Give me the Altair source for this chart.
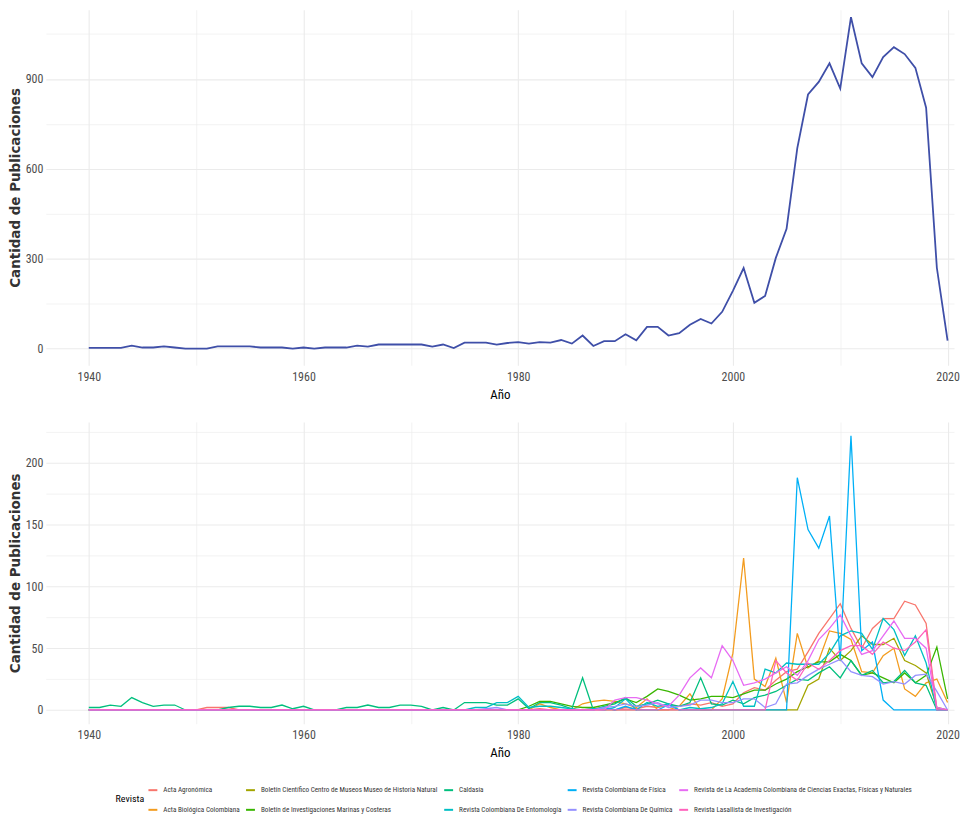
import altair as alt
import pandas as pd

years = list(range(1940, 2021))

# total publications per year (top panel)
total = [3, 3, 3, 3, 10, 4, 4, 8, 4, 0,
         0, 0, 8, 8, 8, 8, 4, 4, 4, 0,
         4, 0, 4, 4, 4, 10, 7, 14, 14, 14,
         14, 14, 7, 14, 2, 20, 20, 20, 14, 19,
         22, 17, 22, 20, 29, 17, 44, 9, 25, 25,
         48, 28, 73, 73, 44, 52, 80, 99, 84, 123,
         193, 269, 153, 176, 303, 400, 669, 848, 890, 952,
         868, 1106, 952, 906, 973, 1006, 983, 937, 804, 270,
         27]

acta_agronomica = [0, 0, 0, 0, 0, 0, 0, 0, 0, 0,
                   0, 2, 2, 2, 0, 0, 0, 0, 0, 0,
                   0, 0, 0, 0, 0, 0, 0, 0, 0, 0,
                   0, 0, 0, 0, 0, 0, 0, 0, 0, 0,
                   0, 0, 1, 0, 0, 0, 0, 1, 2, 0,
                   2, 1, 3, 2, 4, 3, 5, 4, 6, 3,
                   5, 14, 18, 16, 24, 31, 33, 47, 62, 74,
                   86, 66, 50, 66, 74, 74, 88, 85, 70, 1,
                   0]
acta_biologica = [0, 0, 0, 0, 0, 0, 0, 0, 0, 0,
                  0, 0, 0, 0, 0, 0, 0, 0, 0, 0,
                  0, 0, 0, 0, 0, 0, 0, 0, 0, 0,
                  0, 0, 0, 0, 0, 0, 0, 0, 0, 0,
                  0, 0, 5, 2, 0, 0, 5, 7, 8, 7,
                  5, 2, 9, 0, 0, 3, 13, 0, 0, 9,
                  46, 123, 25, 19, 42, 6, 62, 34, 40, 64,
                  62, 57, 31, 30, 44, 50, 17, 11, 22, 25,
                  6]
boletin_cientifico = [0, 0, 0, 0, 0, 0, 0, 0, 0, 0,
                      0, 0, 0, 0, 0, 0, 0, 0, 0, 0,
                      0, 0, 0, 0, 0, 0, 0, 0, 0, 0,
                      0, 0, 0, 0, 0, 0, 0, 0, 0, 0,
                      0, 0, 0, 0, 0, 0, 0, 0, 0, 0,
                      0, 0, 0, 0, 0, 0, 0, 0, 0, 0,
                      0, 0, 0, 0, 0, 0, 0, 20, 25, 50,
                      40, 48, 60, 53, 53, 58, 40, 36, 30, 2,
                      0]
boletin_marinas = [0, 0, 0, 0, 0, 0, 0, 0, 0, 0,
                   0, 0, 0, 0, 0, 0, 0, 0, 0, 0,
                   0, 0, 0, 0, 0, 0, 0, 0, 0, 0,
                   0, 0, 0, 0, 0, 0, 0, 0, 0, 0,
                   0, 3, 7, 7, 5, 3, 2, 2, 4, 6,
                   9, 6, 11, 17, 15, 12, 8, 9, 11, 11,
                   10, 13, 16, 16, 21, 25, 31, 35, 39, 39,
                   45, 40, 28, 30, 26, 22, 30, 22, 28, 51,
                   9]
caldasia = [2, 2, 4, 3, 10, 6, 3, 4, 4, 0,
            0, 0, 0, 2, 3, 3, 2, 2, 4, 1,
            3, 0, 0, 0, 2, 2, 4, 2, 2, 4,
            4, 3, 0, 2, 0, 6, 6, 6, 4, 4,
            9, 1, 6, 6, 4, 1, 26, 0, 3, 5,
            10, 3, 5, 8, 5, 3, 6, 26, 5, 4,
            8, 5, 10, 12, 15, 20, 25, 24, 30, 35,
            26, 40, 28, 32, 22, 23, 32, 22, 20, 0,
            0]
entomologia = [0, 0, 0, 0, 0, 0, 0, 0, 0, 0,
               0, 0, 0, 0, 0, 0, 0, 0, 0, 0,
               0, 0, 0, 0, 0, 0, 0, 0, 0, 0,
               0, 0, 0, 0, 0, 0, 2, 2, 6, 6,
               11, 2, 3, 3, 2, 1, 0, 1, 0, 2,
               9, 0, 6, 3, 5, 0, 2, 1, 2, 5,
               23, 3, 3, 33, 30, 38, 37, 37, 37, 46,
               60, 64, 62, 49, 74, 65, 44, 60, 38, 0,
               0]
fisica = [0, 0, 0, 0, 0, 0, 0, 0, 0, 0,
          0, 0, 0, 0, 0, 0, 0, 0, 0, 0,
          0, 0, 0, 0, 0, 0, 0, 0, 0, 0,
          0, 0, 0, 0, 0, 0, 0, 0, 0, 0,
          0, 0, 0, 0, 0, 0, 0, 0, 2, 0,
          3, 0, 0, 0, 4, 0, 0, 0, 0, 0,
          0, 0, 0, 0, 0, 0, 188, 146, 131, 157,
          40, 222, 48, 55, 8, 0, 0, 0, 0, 0,
          0]
quimica = [0, 0, 0, 0, 0, 0, 0, 0, 0, 0,
           0, 0, 0, 0, 0, 0, 0, 0, 0, 0,
           0, 0, 0, 0, 0, 0, 0, 0, 0, 0,
           0, 0, 0, 0, 0, 0, 0, 1, 2, 0,
           0, 0, 0, 0, 0, 0, 0, 0, 2, 3,
           5, 3, 4, 6, 2, 3, 4, 8, 8, 6,
           6, 9, 9, 2, 5, 21, 22, 28, 33, 37,
           41, 31, 28, 27, 21, 23, 21, 28, 29, 15,
           0]
academia = [0, 0, 0, 0, 0, 0, 0, 0, 0, 0,
            0, 0, 0, 0, 0, 0, 0, 0, 0, 0,
            0, 0, 0, 0, 0, 0, 0, 0, 0, 0,
            0, 0, 0, 0, 0, 0, 0, 0, 0, 0,
            0, 0, 0, 0, 0, 0, 0, 0, 0, 8,
            10, 10, 8, 5, 3, 12, 26, 34, 26, 52,
            40, 20, 22, 25, 30, 35, 28, 40, 57, 66,
            77, 60, 45, 48, 60, 72, 58, 58, 50, 2,
            0]
lasallista = [0, 0, 0, 0, 0, 0, 0, 0, 0, 0,
              0, 0, 0, 0, 0, 0, 0, 0, 0, 0,
              0, 0, 0, 0, 0, 0, 0, 0, 0, 0,
              0, 0, 0, 0, 0, 0, 0, 0, 0, 0,
              0, 0, 0, 0, 0, 0, 0, 0, 0, 0,
              0, 0, 0, 0, 0, 0, 0, 0, 0, 0,
              0, 0, 0, 0, 40, 30, 24, 38, 33, 40,
              48, 52, 52, 45, 55, 50, 48, 55, 65, 0,
              0]

# journals in drawing (alphabetical) order
journals = [
    ("Acta Agronómica", acta_agronomica),
    ("Acta Biológica Colombiana", acta_biologica),
    ("Boletín Científico Centro de Museos Museo de Historia Natural", boletin_cientifico),
    ("Boletín de Investigaciones Marinas y Costeras", boletin_marinas),
    ("Caldasia", caldasia),
    ("Revista Colombiana De Entomología", entomologia),
    ("Revista Colombiana de Física", fisica),
    ("Revista Colombiana De Química", quimica),
    ("Revista de La Academia Colombiana de Ciencias Exactas, Físicas y Naturales", academia),
    ("Revista Lasallista de Investigación", lasallista),
]

# legend order (row-wise, 5 columns) and matching colours
legend_order = [
    "Acta Agronómica",
    "Boletín Científico Centro de Museos Museo de Historia Natural",
    "Caldasia",
    "Revista Colombiana de Física",
    "Revista de La Academia Colombiana de Ciencias Exactas, Físicas y Naturales",
    "Acta Biológica Colombiana",
    "Boletín de Investigaciones Marinas y Costeras",
    "Revista Colombiana De Entomología",
    "Revista Colombiana De Química",
    "Revista Lasallista de Investigación",
]
legend_colors = ["#F8766D", "#A3A500", "#00BF7D", "#00B0F6", "#E76BF3",
                 "#F39C1F", "#39B600", "#00BFC4", "#9590FF", "#FF62BC"]

df_total = pd.DataFrame({"Año": years, "Publicaciones": total})
rows = []
for i, (name, vals) in enumerate(journals):
    for y, v in zip(years, vals):
        rows.append({"Año": y, "Publicaciones": v, "Revista": name, "ord": i})
df_j = pd.DataFrame(rows)

NARROW = "Liberation Sans Narrow, Arial Narrow, Roboto Condensed, Liberation Sans, sans-serif"
YTITLE_FONT = "DejaVu Sans, Verdana, sans-serif"

x_values = list(range(1940, 2021, 10))


def x_axis():
    return alt.Axis(
        values=x_values, format="d",
        labelExpr="datum.value % 20 == 0 ? datum.label : ''",
        labelOverlap=False, ticks=False, domain=False,
        gridColor="#EBEBEB",
        gridWidth={"condition": {"test": "datum.value % 20 == 0", "value": 1.1}, "value": 0.6},
        labelFont=NARROW, labelFontSize=12, labelColor="#4D4D4D", labelPadding=6,
        title="Año", titleFont=NARROW, titleFontSize=13, titleFontWeight="normal",
        titleColor="#000000", titlePadding=6,
    )


def y_axis(vals, major):
    return alt.Axis(
        values=vals, format="d",
        labelExpr=f"datum.value % {major} == 0 ? datum.label : ''",
        labelOverlap=False, ticks=False, domain=False,
        gridColor="#EBEBEB",
        gridWidth={"condition": {"test": f"datum.value % {major} == 0", "value": 1.1}, "value": 0.6},
        labelFont=NARROW, labelFontSize=12, labelColor="#4D4D4D", labelPadding=3,
        title="Cantidad de Publicaciones", titleFont=YTITLE_FONT, titleFontSize=13.5,
        titleFontWeight="bold", titleColor="#333333", titlePadding=3,
    )


x_scale = alt.Scale(domain=[1936, 2020.6], nice=False, zero=False)

top = alt.Chart(df_total).mark_line(color="#3F4FA8", strokeWidth=1.8, clip=True).encode(
    x=alt.X("Año:Q", scale=x_scale, axis=x_axis()),
    y=alt.Y("Publicaciones:Q", scale=alt.Scale(domain=[-55, 1131], nice=False, zero=False),
            axis=y_axis(list(range(0, 1051, 150)), 300)),
).properties(width=912, height=357)

bottom = alt.Chart(df_j).mark_line(strokeWidth=1.3, clip=True).encode(
    x=alt.X("Año:Q", scale=x_scale, axis=x_axis()),
    y=alt.Y("Publicaciones:Q", scale=alt.Scale(domain=[-11.1, 233.1], nice=False, zero=False),
            axis=y_axis(list(range(0, 226, 25)), 50)),
    color=alt.Color(
        "Revista:N",
        scale=alt.Scale(domain=legend_order, range=legend_colors),
        legend=alt.Legend(
            orient="none", legendX=70, legendY=364, direction="horizontal", columns=5,
            title="Revista", titleOrient="left", titleAnchor="middle",
            titleFont=NARROW, titleFontSize=10, titleFontWeight="normal",
            titleColor="#000000", titlePadding=3,
            labelFont=NARROW, labelFontSize=7.2, labelColor="#333333", labelLimit=400,
            symbolType="stroke", symbolSize=80, symbolStrokeWidth=2,
            rowPadding=10, columnPadding=2, labelOffset=5,
        ),
    ),
    order=alt.Order("ord:Q"),
    detail="Revista:N",
).properties(width=912, height=303)

chart = alt.vconcat(top, bottom, spacing=21).resolve_scale(
    x="independent", y="independent", color="independent"
).resolve_legend(color="independent").properties(
    padding={"left": 0, "top": 0, "right": 0, "bottom": 0},
    background="white",
).configure_view(stroke=None)

chart.save("out.html", embed_options={"renderer": "svg", "actions": False})
